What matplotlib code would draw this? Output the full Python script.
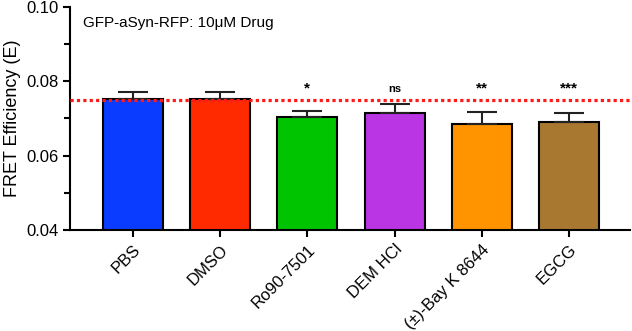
import matplotlib.pyplot as plt

plt.rcParams['font.family'] = ['Liberation Sans', 'DejaVu Sans']

drugs = ['PBS', 'DMSO', 'Ro90-7501', 'DEM HCl', '(±)-Bay K 8644', 'EGCG']
fret = [0.0752, 0.0752, 0.0703, 0.0714, 0.0684, 0.0690]
sem = [0.0020, 0.0018, 0.0016, 0.0025, 0.0033, 0.0025]
signif = ['', '', '*', 'ns', '**', '***']
colors = ['#0A3CFF', '#FF2A00', '#00C400', '#BA35E4', '#FF9400', '#A87830']
baseline = 0.075

fig = plt.figure(figsize=(6.32, 3.31), dpi=100)
ax = fig.add_axes([0.111, 0.305, 0.886, 0.674])

x = list(range(len(drugs)))
ax.bar(x, fret, width=0.69, color=colors, edgecolor='black', linewidth=1.5, zorder=2)
ax.errorbar(x, fret, yerr=[[0] * len(sem), sem], fmt='none', ecolor='#222222',
            elinewidth=1.5, capsize=11, capthick=1.5, zorder=3)
ax.axhline(baseline, color='#FF1A1A', linestyle=(0, (1, 1.0)), linewidth=2.3, zorder=4)

for xi, s in zip(x, signif):
    if s == 'ns':
        ax.text(xi, 0.0767, s, ha='center', va='bottom', fontsize=8, fontweight='bold')
    elif s:
        ax.text(xi, 0.0762, s, ha='center', va='bottom', fontsize=11, fontweight='bold')

ax.text(0.023, 0.93, 'GFP-aSyn-RFP: 10\u03bcM Drug', transform=ax.transAxes,
        fontsize=11, va='center', ha='left')

ax.set_ylim(0.04, 0.10)
ax.set_xlim(-0.72, 5.70)
ax.set_yticks([0.04, 0.06, 0.08, 0.10])
ax.set_yticklabels(['0.04', '0.06', '0.08', '0.10'])
ax.set_yticks([0.05, 0.07, 0.09], minor=True)
ax.set_xticks(x)
ax.set_xticklabels(drugs, rotation=45, ha='right', rotation_mode='anchor', fontsize=12)
ax.tick_params(axis='y', labelsize=12, width=1.5, length=5)
ax.tick_params(axis='y', which='minor', width=1.5, length=4)
ax.tick_params(axis='x', width=1.5, length=5)
ax.set_ylabel('FRET Efficiency (E)', fontsize=13)

for side in ['top', 'right']:
    ax.spines[side].set_visible(False)
for side in ['left', 'bottom']:
    ax.spines[side].set_linewidth(1.5)

fig.savefig('out.png', dpi=100)
